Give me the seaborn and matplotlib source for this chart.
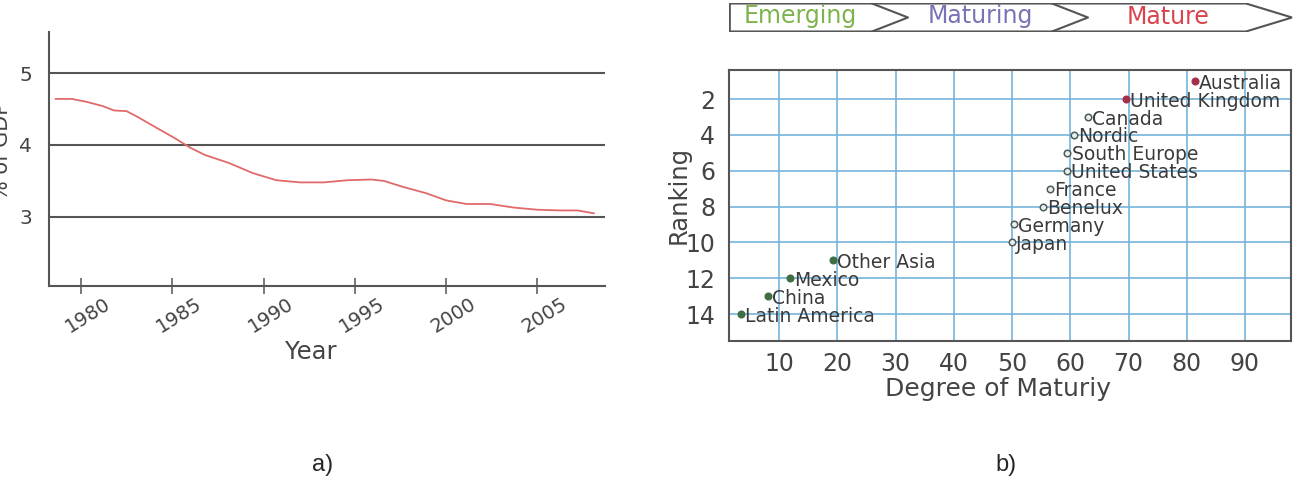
import numpy as np
import pandas as pd
import matplotlib
matplotlib.use("Agg")
import matplotlib.pyplot as plt
import matplotlib.transforms as mtransforms
from matplotlib.patches import Polygon
import seaborn as sns

sns.set_style("white")
plt.rcParams["font.family"] = ["DejaVu Sans"]

# a) spending as % of GDP
years = [1978.6, 1979.5, 1980.3, 1981.2, 1981.8, 1982.5, 1983.1, 1984.2, 1985.1,
         1986.0, 1986.8, 1988.1, 1989.4, 1990.7, 1992.0, 1993.3, 1994.6, 1995.9,
         1996.6, 1997.6, 1998.9, 2000.0, 2001.1, 2002.4, 2003.7, 2005.0, 2006.3,
         2007.2, 2008.1]
gdp_share = [4.64, 4.64, 4.60, 4.54, 4.48, 4.47, 4.39, 4.23, 4.10,
             3.96, 3.86, 3.75, 3.61, 3.51, 3.48, 3.48, 3.51, 3.52,
             3.50, 3.42, 3.33, 3.23, 3.18, 3.18, 3.13, 3.10, 3.09,
             3.09, 3.05]
year_ticks = [1980, 1985, 1990, 1995, 2000, 2005]
share_ticks = [3, 4, 5]

# b) market maturity
regions = ["Australia", "United Kingdom", "Canada", "Nordic", "South Europe",
           "United States", "France", "Benelux", "Germany", "Japan",
           "Other Asia", "Mexico", "China", "Latin America"]
maturity = [81.4, 69.6, 63.0, 60.7, 59.5, 59.4, 56.5, 55.3, 50.3, 50.0,
            19.2, 11.9, 8.1, 3.5]
ranking = [1, 2, 3, 4, 5, 6, 7, 8, 9, 10, 11, 12, 13, 14]
stage = ["Mature", "Mature", "Maturing", "Maturing", "Maturing", "Maturing",
         "Maturing", "Maturing", "Maturing", "Maturing",
         "Emerging", "Emerging", "Emerging", "Emerging"]
stages = ["Emerging", "Maturing", "Mature"]
stage_colors = ["#7db34c", "#7674b4", "#d9434c"]
maturity_ticks = [10, 20, 30, 40, 50, 60, 70, 80, 90]
ranking_ticks = [2, 4, 6, 8, 10, 12, 14]

df = pd.DataFrame({"region": regions, "maturity": maturity,
                   "ranking": ranking, "stage": stage})

W, H = 1305, 493
fig = plt.figure(figsize=(W / 100, H / 100), dpi=100)


def px_axes(x0, y0, x1, y1):
    return fig.add_axes([x0 / W, 1 - y1 / H, (x1 - x0) / W, (y1 - y0) / H])


txt = "#444444"
frame = "#555555"

# ---- a) ----
ax1 = px_axes(49, 32, 605, 286)
for v in share_ticks:
    ax1.axhline(v, color=frame, lw=1.5, zorder=1)
sns.lineplot(x=years, y=gdp_share, ax=ax1, color="#e06a6a", lw=1.3, zorder=3)
ax1.set_xlim(1978.25, 2008.7)
ax1.set_ylim(2.04, 5.57)
for s in ["top", "right"]:
    ax1.spines[s].set_visible(False)
for s in ["left", "bottom"]:
    ax1.spines[s].set_color(frame)
    ax1.spines[s].set_linewidth(1.5)
ax1.set_xticks(year_ticks)
ax1.set_yticks(share_ticks)
ax1.tick_params(axis="x", bottom=True, direction="inout", length=12, width=1.1,
                color=frame, pad=2)
ax1.tick_params(axis="y", left=False, length=0, pad=12)
ax1.set_xticklabels([str(y) for y in year_ticks], rotation=32, color=txt, fontsize=14)
ax1.set_yticklabels([str(v) for v in share_ticks], color=txt, fontsize=14.5)
# the year labels sit a little right of their ticks in the original
shift = mtransforms.ScaledTranslation(7 / 100, 3 / 100, fig.dpi_scale_trans)
for lab in ax1.get_xticklabels():
    lab.set_transform(lab.get_transform() + shift)
ax1.set_xlabel("Year", fontsize=17.5, color=txt)
ax1.xaxis.set_label_coords((311 - 49) / 556, -(340 - 286) / 254)
ax1.set_ylabel("")
fig.text(2 / W, 1 - 151 / H, "% of GDP", rotation=90, ha="center", va="center",
         fontsize=15, color=txt)

# ---- b) ----
ax2 = px_axes(729, 70, 1291, 341)
point_style = {
    "Mature": dict(color="#a3304a", edgecolor="#a3304a"),
    "Maturing": dict(color="#e6eeee", edgecolor="#4f5a5a"),
    "Emerging": dict(color="#3f6e45", edgecolor="#3f6e45"),
}
for st, sub in df.groupby("stage"):
    sns.scatterplot(data=sub, x="maturity", y="ranking", ax=ax2, s=22,
                    linewidth=1.1, zorder=4, legend=False, **point_style[st])
for _, r in df.iterrows():
    ax2.annotate(r["region"], (r["maturity"], r["ranking"]), xytext=(3, -1.5),
                 textcoords="offset points", ha="left", va="center",
                 fontsize=13.5, color="#3a3a3a", zorder=5)
ax2.set_xlim(1.4, 97.9)
ax2.set_ylim(15.5, 0.38)
ax2.set_xticks(maturity_ticks)
ax2.set_yticks(ranking_ticks)
ax2.grid(True, color="#74b4da", lw=1.2)
ax2.set_axisbelow(True)
for s in ax2.spines.values():
    s.set_color(frame)
    s.set_linewidth(1.5)
ax2.tick_params(axis="both", labelsize=17, labelcolor=txt, length=0)
ax2.tick_params(axis="y", pad=10)
ax2.tick_params(axis="x", pad=8)
ax2.set_xlabel("Degree of Maturiy", fontsize=18, color=txt)
ax2.xaxis.set_label_coords((998 - 729) / 562, -(377 - 341) / 271)
ax2.set_ylabel("Ranking", fontsize=17.5, color=txt)
ax2.yaxis.set_label_coords(-(729 - 691) / 562, 1 - (195 - 70) / 271)

# stage banner above b)
axb = px_axes(729, 3, 1294, 32)
axb.set_xlim(0, 565)
axb.set_ylim(0, 29)
axb.axis("off")
axb.add_patch(Polygon([(0.8, 0.5), (0.8, 28.5), (517, 28.5), (563, 14.5), (517, 0.5)],
                      closed=True, fill=False, edgecolor=frame, lw=1.5))
for x0 in [143, 323]:
    axb.plot([x0, x0 + 36, x0], [28.5, 14.5, 0.5], color=frame, lw=1.5)
for name, col, xc in zip(stages, stage_colors, [71, 251, 439]):
    axb.text(xc, 15.5, name, ha="center", va="center", fontsize=17, color=col)

fig.text(323 / W, 1 - 465 / H, "a)", ha="center", va="center", fontsize=17,
         family=["Liberation Sans", "DejaVu Sans"])
fig.text(1006 / W, 1 - 465 / H, "b)", ha="center", va="center", fontsize=17,
         family=["Liberation Sans", "DejaVu Sans"])

fig.savefig("out.png", dpi=100)
